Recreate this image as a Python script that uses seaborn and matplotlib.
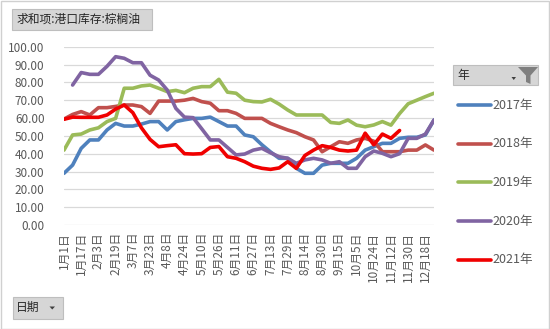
import numpy as np
import pandas as pd
import matplotlib
matplotlib.use("Agg")
import matplotlib.pyplot as plt
import seaborn as sns
from matplotlib.patches import Rectangle, Polygon
from matplotlib.lines import Line2D

# ---------------- data ----------------
years = ["2017年", "2018年", "2019年", "2020年", "2021年"]
tick_labels = ["1月1日", "1月17日", "2月3日", "2月19日", "3月7日", "3月23日", "4月8日",
               "4月24日", "5月10日", "5月26日", "6月11日", "6月27日", "7月13日", "7月29日",
               "8月14日", "8月30日", "9月15日", "10月5日", "10月24日", "11月12日",
               "11月30日", "12月18日"]
y_ticks = [0, 10, 20, 30, 40, 50, 60, 70, 80, 90, 100]
nan = np.nan

v2017 = [29, 33.6, 43, 47.7, 47.7, 53.3, 57, 55.5, 55.5, 56.6, 58, 58, 53.3, 58, 59,
         59.8, 59.8, 60.5, 58, 55.5, 55.5, 50.5, 49.5, 45, 41, 37.4, 37.4, 31.8, 29, 29,
         33.6, 34.6, 34.6, 34.6, 37.4, 42, 43.9, 45.8, 45.8, 48.6, 49.2, 49.2, 50.5, 58.9]
v2018 = [59.4, 62, 63.6, 61.7, 65.8, 65.8, 66.5, 67.3, 67.3, 66.4, 62.6, 69.5, 69.5, 69.5,
         70, 71, 69.2, 68.3, 64.1, 64.1, 62.6, 59.8, 59.8, 59.8, 57, 55.1, 53.3, 51.8, 49.5,
         47.7, 41.1, 43.9, 46.7, 45.8, 47.7, 48.6, 47, 41.1, 41.1, 41.1, 42, 42, 44.9, 42]
v2019 = [42, 50.5, 51, 53.3, 54.5, 58, 59.8, 76.7, 76.7, 78, 78.5, 76.7, 74.8, 75.5, 74.2,
         76.7, 77.6, 77.6, 81.7, 74.5, 73.9, 70, 69.2, 69, 70.5, 67.8, 64.5, 61.7, 61.7,
         61.7, 61.7, 57.5, 57, 58.9, 56, 55.1, 56.1, 58, 56, 62.5, 68, 70, 72, 73.9]
v2020 = [nan, 78.5, 85.5, 84.5, 84.5, 89, 94.4, 93.5, 91, 91, 84, 81.3, 75.7, 65.4, 60.5,
         60.2, 54, 47.7, 47.7, 43.5, 39.3, 39.8, 42, 43, 40.5, 38.3, 37.4, 34.6, 36.5, 37.4,
         36.5, 34.6, 35.5, 31.8, 31.8, 38.3, 41.5, 40.2, 38.3, 40, 48.6, 48.6, 51, 58.9]
v2021 = [59.3, 60.5, 60.4, 60.4, 60.4, 61.7, 65, 67.3, 63, 54.5, 48, 43.9, 44.5, 45, 40,
         39.8, 40, 43.5, 44, 38.3, 37.4, 35.5, 33, 31.8, 31.2, 32, 35.5, 31.8, 39, 42, 44.5,
         43.5, 42, 41.5, 42, 51.5, 45, 51, 48.6, 53, nan, nan, nan, nan]

colors = ["#4F81BD", "#C0504D", "#9BBB59", "#8064A2", "#F00000"]

# ---------------- frame ----------------
series = [v2017, v2018, v2019, v2020, v2021]
rows = []
for yr, vals in zip(years, series):
    for i, v in enumerate(vals):
        if not np.isnan(v):
            rows.append({"idx": i, "value": v, "year": yr})
df = pd.DataFrame(rows)
n_cat = len(v2017)

sns.set_theme(style="white")
plt.rcParams['font.family'] = ['Noto Sans CJK SC', 'DejaVu Sans']

W, H = 550, 329
fig = plt.figure(figsize=(W / 100, H / 100), dpi=100, facecolor="white")


def px(x, y):
    return (x / W, 1 - y / H)


ax = fig.add_axes([64 / W, 1 - 225 / H, 370 / W, (225 - 46.7) / H])
sns.lineplot(data=df, x="idx", y="value", hue="year", hue_order=years,
             palette=dict(zip(years, colors)), linewidth=2.6, legend=False,
             estimator=None, ax=ax)
for ln in ax.lines:
    ln.set_solid_joinstyle("round")

ax.set_xlim(0, n_cat - 1)
ax.set_ylim(0, 100)
ax.set_yticks(y_ticks)
ax.set_yticklabels([f"{v:.2f}" for v in y_ticks], fontsize=8.5, color="#595959")
ax.set_xticks(list(range(0, 2 * len(tick_labels), 2)))
ax.set_xticklabels(tick_labels, rotation=90, va="top", ha="center",
                   fontsize=8.5, color="#595959")
ax.tick_params(axis="y", length=0, pad=14)
ax.tick_params(axis="x", length=0, pad=5)
ax.set_xlabel("")
ax.set_ylabel("")
ax.yaxis.grid(True, color="#D9D9D9", linewidth=0.9)
ax.xaxis.grid(False)
ax.set_axisbelow(True)
for s in ax.spines.values():
    s.set_visible(False)
ax.set_facecolor("white")

# ---------------- chart border ----------------
fig.patches.append(Rectangle((0.5 / W, 0.5 / H), 1 - 1.5 / W, 1 - 1.5 / H,
                             transform=fig.transFigure, fill=False,
                             edgecolor="#D0D0D0", linewidth=1))

# ---------------- pivot buttons ----------------
def button(x0, y0, x1, y1):
    fig.patches.append(Rectangle(px(x0, y1), (x1 - x0) / W, (y1 - y0) / H,
                                 transform=fig.transFigure, facecolor="#D6D6D6",
                                 edgecolor="#BEBEBE", linewidth=0.8))


button(12, 9, 152, 29.5)
fig.text(*px(17, 19.5), "求和项:港口库存:棕榈油", fontsize=8.5, color="#262626",
         va="center", ha="left")

button(12.5, 296.5, 62.5, 318.5)
fig.text(*px(16, 307.5), "日期", fontsize=8.5, color="#262626", va="center", ha="left")
fig.patches.append(Polygon([px(49.5, 306.5), px(55, 306.5), px(52.25, 309.5)],
                           closed=True, transform=fig.transFigure,
                           facecolor="#404040", edgecolor="none"))

button(453, 65, 538, 85)
fig.text(*px(457, 75), "年", fontsize=8.5, color="#262626", va="center", ha="left")
fig.patches.append(Polygon([px(511.5, 77), px(516, 77), px(513.75, 80)],
                           closed=True, transform=fig.transFigure,
                           facecolor="#404040", edgecolor="none"))
fig.patches.append(Polygon([px(518, 67), px(538, 67), px(530.5, 75.5), px(530.5, 84),
                            px(526, 82), px(526, 75.5)],
                           closed=True, transform=fig.transFigure,
                           facecolor="#7F7F7F", edgecolor="none"))

# ---------------- legend ----------------
for k, (yr, c) in enumerate(zip(years, colors)):
    yy = 105 + 38.75 * k
    (x0, y0), (x1, _) = px(458, yy), px(491, yy)
    fig.lines.append(Line2D([x0, x1], [y0, y0], transform=fig.transFigure,
                            color=c, linewidth=2.6, solid_capstyle="round"))
    fig.text(*px(492, yy), yr, fontsize=9, color="#595959", va="center", ha="left")

fig.savefig("out.png", dpi=100, facecolor="white")
